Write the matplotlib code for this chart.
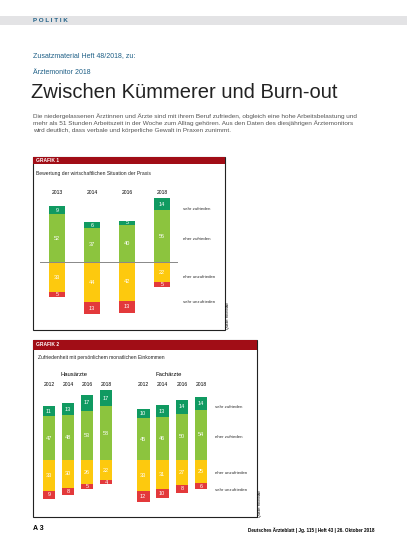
import numpy as np
import matplotlib
matplotlib.use("Agg")
import matplotlib.pyplot as plt
from matplotlib.patches import Rectangle

W, H = 407, 551

# Grafik 1: Bewertung der wirtschaftlichen Situation
years1 = ["2013", "2014", "2016", "2018"]
sehr_zuf1 = [9, 6, 5, 14]
eher_zuf1 = [52, 37, 40, 56]
eher_unz1 = [33, 44, 42, 22]
sehr_unz1 = [5, 13, 13, 5]

# Grafik 2: Zufriedenheit mit persönlichem monatlichen Einkommen
years2 = ["2012", "2014", "2016", "2018"]
groups2 = ["Hausärzte", "Fachärzte"]
sehr_zuf2 = [11, 13, 17, 17, 10, 13, 14, 14]
eher_zuf2 = [47, 48, 53, 58, 45, 46, 50, 54]
eher_unz2 = [33, 30, 26, 22, 33, 31, 27, 25]
sehr_unz2 = [9, 8, 5, 4, 12, 10, 8, 6]

cats = ["sehr zufrieden", "eher zufrieden", "eher unzufrieden", "sehr unzufrieden"]
C_DG, C_LG, C_Y, C_R = "#109a61", "#8cc43e", "#fdc90e", "#e3393b"
RED = "#a10d16"
TEAL = "#1e5f86"

plt.rcParams["font.family"] = ["Liberation Sans", "DejaVu Sans"]
fig = plt.figure(figsize=(W / 100, H / 100), dpi=100)


def px(x, y):
    return x / W, 1 - y / H


def ftext(x, y, s, **kw):
    kw.setdefault("va", "center")
    fig.text(*px(x, y), s, **kw)


def frect(x0, y0, x1, y1, **kw):
    fig.patches.append(Rectangle(px(x0, y1), (x1 - x0) / W, (y1 - y0) / H,
                                 transform=fig.transFigure, **kw))


def stacked_axes(x0, x1, ytop, ybot, base, scale, xmin, xmax):
    ax = fig.add_axes([x0 / W, 1 - ybot / H, (x1 - x0) / W, (ybot - ytop) / H])
    ax.set_xlim(xmin, xmax)
    ax.set_ylim((base - ybot) / scale, (base - ytop) / scale)
    ax.axis("off")
    return ax


def draw_stack(ax, pos, sz, ez, eu, su, width, fs):
    for i, p in enumerate(pos):
        parts = [(0, ez[i], C_LG), (ez[i], sz[i], C_DG),
                 (-eu[i], eu[i], C_Y), (-eu[i] - su[i], su[i], C_R)]
        for b, h, c in parts:
            ax.bar(p, h, width, bottom=b, color=c, lw=0)
            ax.text(p, b + h / 2, str(h), ha="center", va="center",
                    color="white", fontsize=fs)


# page header
frect(0, 16, W, 25, color="#e3e3e5", lw=0)
ftext(33, 20.5, "P O L I T I K", fontsize=4.5, color=TEAL, weight="bold")
ftext(33, 56, "Zusatzmaterial Heft 48/2018, zu:", fontsize=5, color=TEAL)
ftext(33, 72, "Ärztemonitor 2018", fontsize=5, color=TEAL)
ftext(31, 93, "Zwischen Kümmerer und Burn-out", fontsize=14.5, color="#222222")
para = ("Die niedergelassenen Ärztinnen und Ärzte sind mit ihrem Beruf zufrieden, obgleich eine hohe Arbeitsbelastung und\n"
        "mehr als 51 Stunden Arbeitszeit in der Woche zum Alltag gehören. Aus den Daten des diesjährigen Ärztemonitors\n"
        "wird deutlich, dass verbale und körperliche Gewalt in Praxen zunimmt.")
ftext(33, 123, para, fontsize=4.6, color="#555555", linespacing=1.45)

# Grafik 1 frame
frect(33, 157, 225, 330, fill=False, ec="#222222", lw=0.8)
frect(33, 157, 225, 164, color=RED, lw=0)
ftext(36, 160.5, "GRAFIK 1", fontsize=3.5, color="white", weight="bold")
ftext(36, 173, "Bewertung der wirtschaftlichen Situation der Praxis", fontsize=3.6, color="#222222")
ax1 = stacked_axes(40, 178, 185, 325, 262, 0.92, -0.486, 3.457)
x1 = np.arange(len(years1))
ax1.axhline(0, color="#888888", lw=0.7)
draw_stack(ax1, x1, sehr_zuf1, eher_zuf1, eher_unz1, sehr_unz1, 0.46, 4)
for p, y in zip(x1, years1):
    ax1.text(p, (262 - 193) / 0.92, y, ha="center", va="center", fontsize=3.6)
for y, c in zip([209, 239, 277, 302], cats):
    ftext(183, y, c, fontsize=3.2, color="#333333")
ftext(228, 315, "Quelle: KBV/NAV", fontsize=2.5, rotation=90, ha="center")

# Grafik 2 frame
frect(33, 340, 257, 517, fill=False, ec="#222222", lw=0.8)
frect(33, 340, 257, 350, color=RED, lw=0)
ftext(36, 345, "GRAFIK 2", fontsize=3.5, color="white", weight="bold")
ftext(38, 358, "Zufriedenheit mit persönlichem monatlichen Einkommen", fontsize=3.6, color="#222222")
ax2 = stacked_axes(38, 210, 370, 510, 460, 0.93, -11 / 19, 161 / 19)
x2 = np.array([0, 1, 2, 3, 4.95, 5.95, 7, 8])
draw_stack(ax2, x2, sehr_zuf2, eher_zuf2, eher_unz2, sehr_unz2, 0.68, 4)
for g, cx in zip(groups2, [1.3, 6.3]):
    ax2.text(cx, (460 - 374) / 0.93, g, ha="center", va="center", fontsize=4.2)
for p, y in zip(x2, years2 * 2):
    ax2.text(p, (460 - 385) / 0.93, y, ha="center", va="center", fontsize=3.6)
for y, c in zip([407, 437, 473, 490], cats):
    ftext(215, y, c, fontsize=3.2, color="#333333")
ftext(260, 503, "Quelle: KBV/NAV", fontsize=2.5, rotation=90, ha="center")

# footer
ftext(33, 529, "A 3", fontsize=5, weight="bold")
ftext(375, 530, "Deutsches Ärzteblatt | Jg. 115 | Heft 43 | 26. Oktober 2018",
      fontsize=3.3, ha="right", weight="bold")

fig.savefig("out.png", dpi=100)
